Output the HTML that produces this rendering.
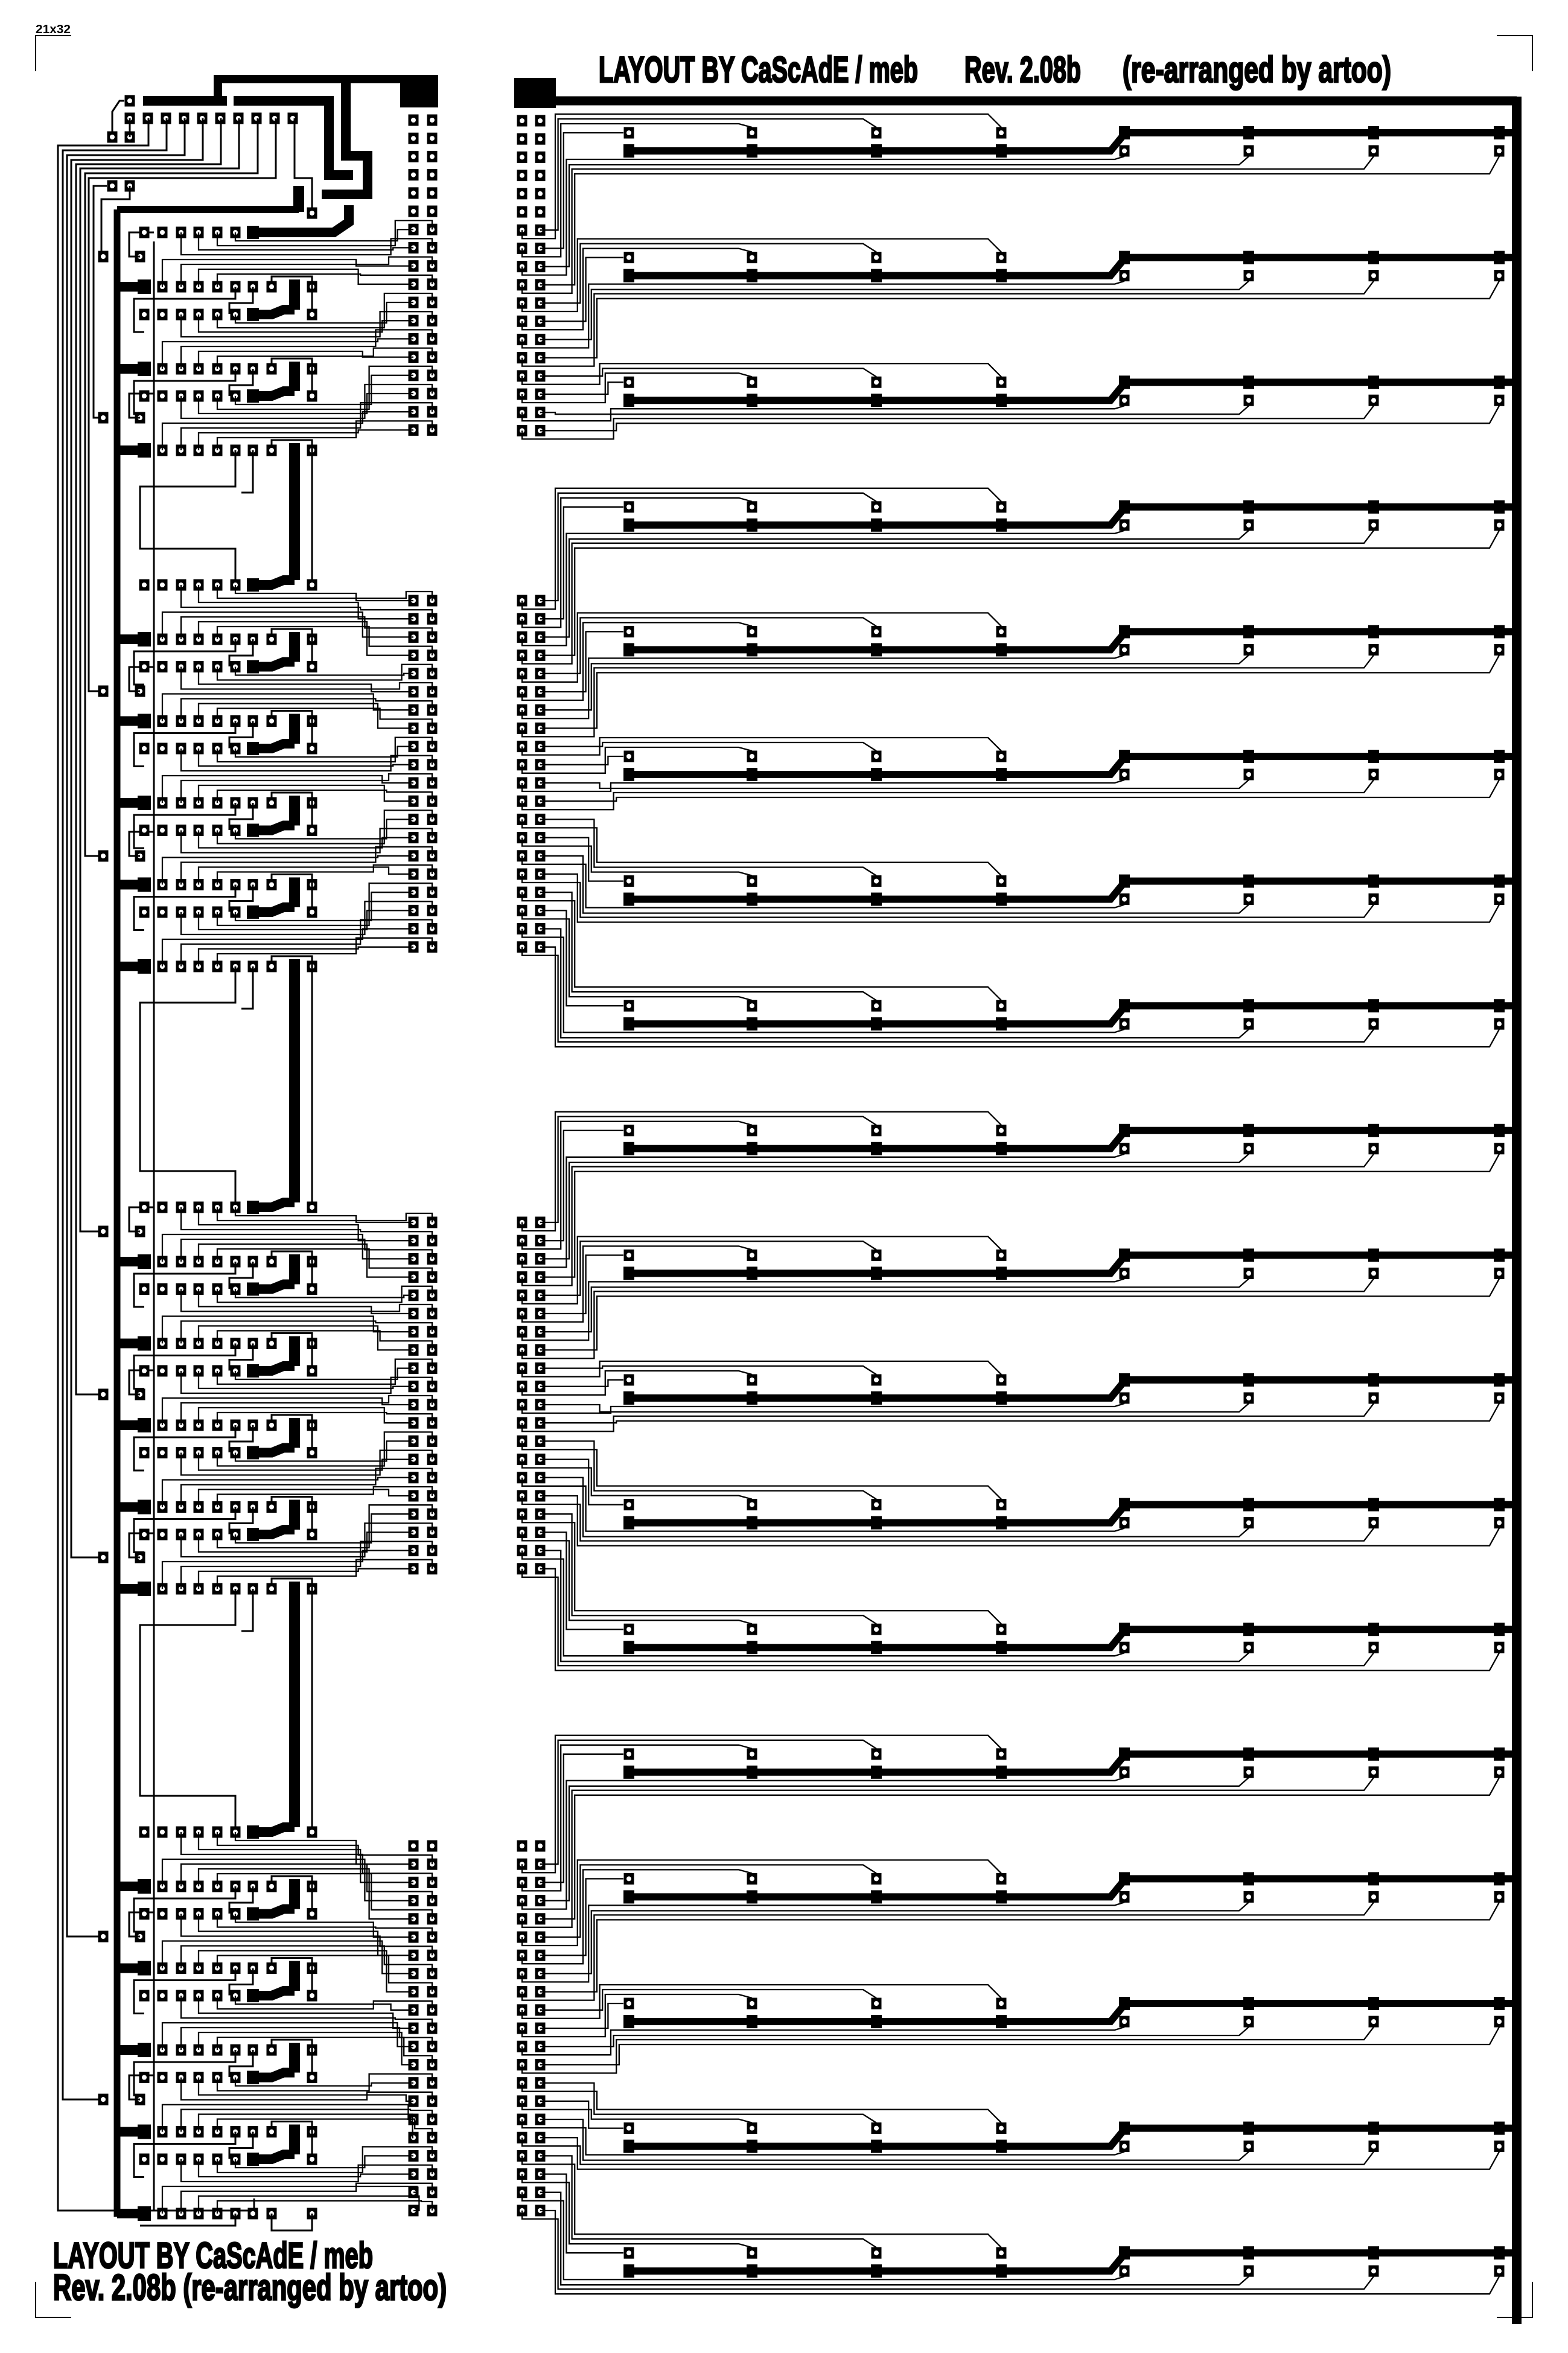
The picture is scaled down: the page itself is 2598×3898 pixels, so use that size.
<!DOCTYPE html>
<html><head><meta charset="utf-8">
<style>
html,body{margin:0;padding:0;background:#fff;}
body{width:2598px;height:3898px;overflow:hidden;}
svg{display:block;}
.t{font-family:"Liberation Sans Narrow","Liberation Sans",sans-serif;font-weight:bold;fill:#000;stroke:#000;stroke-width:3;}
</style></head>
<body>
<svg id="s" xmlns="http://www.w3.org/2000/svg" width="2598" height="3898" viewBox="0 0 2598 3898">
<rect width="2598" height="3898" fill="#fff"/>
<text x="59" y="55" font-size="20" font-weight="bold" font-family="Liberation Sans, sans-serif" textLength="58" lengthAdjust="spacingAndGlyphs">21x32</text>
<text class="t" x="992" y="136" font-size="60" textLength="529" lengthAdjust="spacingAndGlyphs">LAYOUT  BY CaScAdE / meb</text>
<text class="t" x="1598" y="136" font-size="60" textLength="193" lengthAdjust="spacingAndGlyphs">Rev. 2.08b</text>
<text class="t" x="1860" y="136" font-size="60" textLength="445" lengthAdjust="spacingAndGlyphs">(re-arranged by artoo)</text>
<text class="t" x="88" y="3757" font-size="60" textLength="530" lengthAdjust="spacingAndGlyphs">LAYOUT  BY CaScAdE / meb</text>
<text class="t" x="88" y="3810" font-size="60" textLength="652" lengthAdjust="spacingAndGlyphs">Rev. 2.08b (re-arranged by artoo)</text>
<g stroke="#000" stroke-width="2" fill="none">
<polyline points="59,118 59,59 118,59"/>
<polyline points="2480,59 2539,59 2539,118"/>
<polyline points="59,3780 59,3839 118,3839"/>
<polyline points="2539,3780 2539,3839 2480,3839"/>
</g>
<g id="g"></g>
</svg>
<script>
(function(){
var s=[];
function L(pts,w){s.push('<polyline points="'+pts.map(function(p){return p[0].toFixed(1)+','+p[1].toFixed(1);}).join(' ')+'" fill="none" stroke="#000" stroke-width="'+(w||3)+'" stroke-linejoin="miter"/>');}
function R(x,y,w,h){s.push('<rect x="'+x+'" y="'+y+'" width="'+w+'" height="'+h+'"/>');}
function P(x,y,w,h,hole){w=w||17;h=h||19;R(x-w/2,y-h/2,w,h);if(hole!==0)s.push('<circle cx="'+x+'" cy="'+y+'" r="4" fill="#fff"/>');}
function assignX(tr,rowY,x0,step){
  /* tr sorted by target y; rowY(j) gives connector y */
  var up=[],dn=[];
  tr.forEach(function(t,j){ if(t.y<rowY(j)) up.push(j); else dn.push(j); });
  var xs=[];
  up.forEach(function(j,u){xs[j]=x0+u*step;});
  dn.forEach(function(j,d){xs[j]=x0+(dn.length-1-d)*step;});
  return xs;
}

/* ================= RIGHT PANEL ================= */
R(852,129,69,50);
L([[905,167],[2513,167]],15);
L([[2513,160],[2513,3850]],16);
var XS=[1042,1246,1452,1659], XB=[1863,2069,2276,2484];
var rgroups=[{y:200,n:18,rows:[0,1,2]},{y:995,n:20,rows:[3,4,5,6,7]},{y:2025,n:20,rows:[8,9,10,11,12]},{y:3058,n:21,rows:[13,14,15,16,17]}];
rgroups.forEach(function(g){
  var tr=[];
  g.rows.forEach(function(i){
    var y0=220+i*206.6;
    L([[1863,y0],[2513,y0]],12);
    L([[1042,y0+30],[1840,y0+30],[1863,y0+2]],12);
    XS.forEach(function(x){P(x,y0,17,19,1);P(x,y0+30,18,22,0);});
    XB.forEach(function(x){P(x,y0,18,22,0);P(x,y0+30,17,19,1);});
    tr.push({y:y0,tail:[[XS[0]-9,y0]]});
    tr.push({y:y0-15,tail:[[XS[1]-22,y0-15],[XS[1],y0-9]]});
    tr.push({y:y0-23,tail:[[XS[2]-22,y0-23],[XS[2],y0-9]]});
    tr.push({y:y0-31,tail:[[XS[3]-22,y0-31],[XS[3],y0-9]]});
    var by=[44,53,60,68];
    for(var k=0;k<4;k++){var ty=y0+by[k];tr.push({y:ty,tail:[[XB[k]-16,ty],[XB[k],y0+39]]});}
  });
  tr.sort(function(a,b){return a.y-b.y;});
  var nt=tr.length, start=g.n-nt/2;
  for(var r=0;r<g.n;r++){var ry=g.y+r*30.2;P(865,ry,17,19,1);P(895,ry,17,19,1);}
  function rowY(j){var r=start+Math.floor(j/2);return g.y+r*30.2+(j%2===0?14:0);}
  var xs=assignX(tr,rowY,920,4.6);
  tr.forEach(function(t,j){
    var r=start+Math.floor(j/2), c=j%2, ry=g.y+r*30.2;
    var xv=xs[j];
    var pts;
    if(c===1) pts=[[895,ry],[xv,ry],[xv,t.y]];
    else pts=[[865,ry],[865,ry+14],[xv,ry+14],[xv,t.y]];
    L(pts.concat(t.tail),2.3);
  });
});

/* ================= LEFT PANEL ================= */
R(663,130,63,48);
L([[361,167],[361,131],[726,131]],14);
L([[237,167],[376,167]],16);
L([[387,167],[545,167],[545,290],[585,290]],16);
L([[573,131],[573,258],[609,258],[609,322],[533,322]],16);
for(var k=0;k<10;k++)P(215+30*k,196,17,19,1);
P(215,167,17,19,1);P(186,227,17,19,1);P(215,227,17,19,1);
L([[206,167],[198,167],[186,185],[186,220]],3);
L([[215,196],[215,227]],3);
var px=[246,276,306,336,366,396,427,457], hy=[241,249,257,265,272,279,287,295], vx=[96,104,111,118,126,133,141,147];
var ends=[3662,3478,3208,2580,2310,2040,1418,1145];
for(var k=0;k<8;k++){
  var e=ends[k];
  var pts=[[px[k],196],[px[k],hy[k]],[vx[k],hy[k]],[vx[k],e]];
  if(k===0){pts.push([421,e],[421,e-20]);} else {pts.push([171,e]);}
  L(pts,3);
}
P(186,308,17,19,1);P(215,308,17,19,1);
L([[177,308],[155,308],[155,692],[171,692]],3);
L([[215,308],[215,330],[168,330],[168,425]],3);
L([[488,196],[488,295],[517,295],[517,353]],3);
P(517,353,17,19,1);
R(486,308,18,43);
L([[194,347],[495,347]],12);
L([[194,347],[194,3667],[239,3667]],11);
[425,692,1145,1418,2040,2310,2580,3208,3478].forEach(function(y){P(171,y,17,19,1);P(232,y,17,19,1);L([[232,y],[214,y],[214,y-40],[255,y-40]],3);});
L([[255,400],[255,3662]],3);
L([[96,3662],[421,3662]],3);
L([[578,340],[578,368],[553,385],[419,385]],16);

var lgroups=[
 {B:[385,521,656],cy:199,n:18},
 {B:[969,1104.5,1240,1375.5,1511],cy:995,n:20},
 {B:[2000,2135.5,2271,2406.5,2542],cy:2025,n:20},
 {B:[3035,3170.5,3306,3441.5,3577],cy:3058,n:21}
];
lgroups.forEach(function(g,gi){
  var tr=[];
  g.B.forEach(function(yb,bi){
    var ya=yb+90;
    P(239,yb,17,19,1);
    P(269,yb,17,19,1);
    [300,329,360,390].forEach(function(x){P(x,yb,17,19,1);});
    if(!(gi===0&&bi===0)){
      L([[419,yb],[450,yb],[470,yb-8],[488,yb-8]],16);
    }
    P(419,yb,20,22,0);
    L([[194,ya],[239,ya]],16);
    P(239,ya,22,24,0);
    [269,300,329,360,390,419,450].forEach(function(x){P(x,ya,17,19,1);});
    P(517,ya,17,19,1);
    var nextB = (bi<g.B.length-1)? g.B[bi+1] : (gi<lgroups.length-1? lgroups[gi+1].B[0] : null);
    if(nextB!==null){
      L([[450,ya-9],[450,ya-17],[517,ya-17],[517,ya]],3);
      R(479,ya-12,18,nextB-ya+4);
      L([[517,ya],[517,nextB]],3);
      P(517,nextB,17,19,1);
      if(bi===g.B.length-1){
        L([[390,ya],[390,ya+60],[232,ya+60],[232,nextB-60],[390,nextB-60],[390,nextB]],3);
        L([[419,ya],[419,ya+70],[400,ya+70]],3);
      } else {
        L([[390,ya],[390,ya+20],[222,ya+20],[222,ya+75],[239,ya+75]],3);
        L([[419,ya],[419,ya+27],[380,ya+27],[380,ya+45]],3);
      }
    } else {
      L([[450,ya],[450,ya+28],[517,ya+28],[517,ya]],3);
      L([[390,ya],[390,ya+20],[232,ya+20]],3);
    }
    var ua=[45,37,29,21];
    [269,300,329,360].forEach(function(x,k){tr.push({y:ya-ua[k],head:[[x,ya],[x,ya-ua[k]]]});});
    var db=[37,29,22,14];
    [300,329,360,390].forEach(function(x,k){tr.push({y:yb+db[k],head:[[x,yb],[x,yb+db[k]]]});});
  });
  tr.sort(function(a,b){return a.y-b.y;});
  var nt=tr.length, start=g.n-nt/2;
  for(var r=0;r<g.n;r++){var ry=g.cy+r*30.2;P(685,ry,17,19,1);P(716,ry,17,19,1);}
  function rowY(j){var r=start+Math.floor(j/2);return g.cy+r*30.2-(j%2===1?15:0);}
  var xs=assignX(tr,rowY,590,3.6);
  tr.forEach(function(t,j){
    var r=start+Math.floor(j/2), c=j%2, ry=g.cy+r*30.2;
    var xv=xs[j];
    var pts=t.head.concat([[xv,t.y]]);
    if(c===0) pts.push([xv,ry],[685,ry]);
    else pts.push([xv,ry-15],[716,ry-15],[716,ry]);
    L(pts,2.3);
  });
});

document.getElementById('g').innerHTML=s.join('');
})();
</script>
</body></html>
